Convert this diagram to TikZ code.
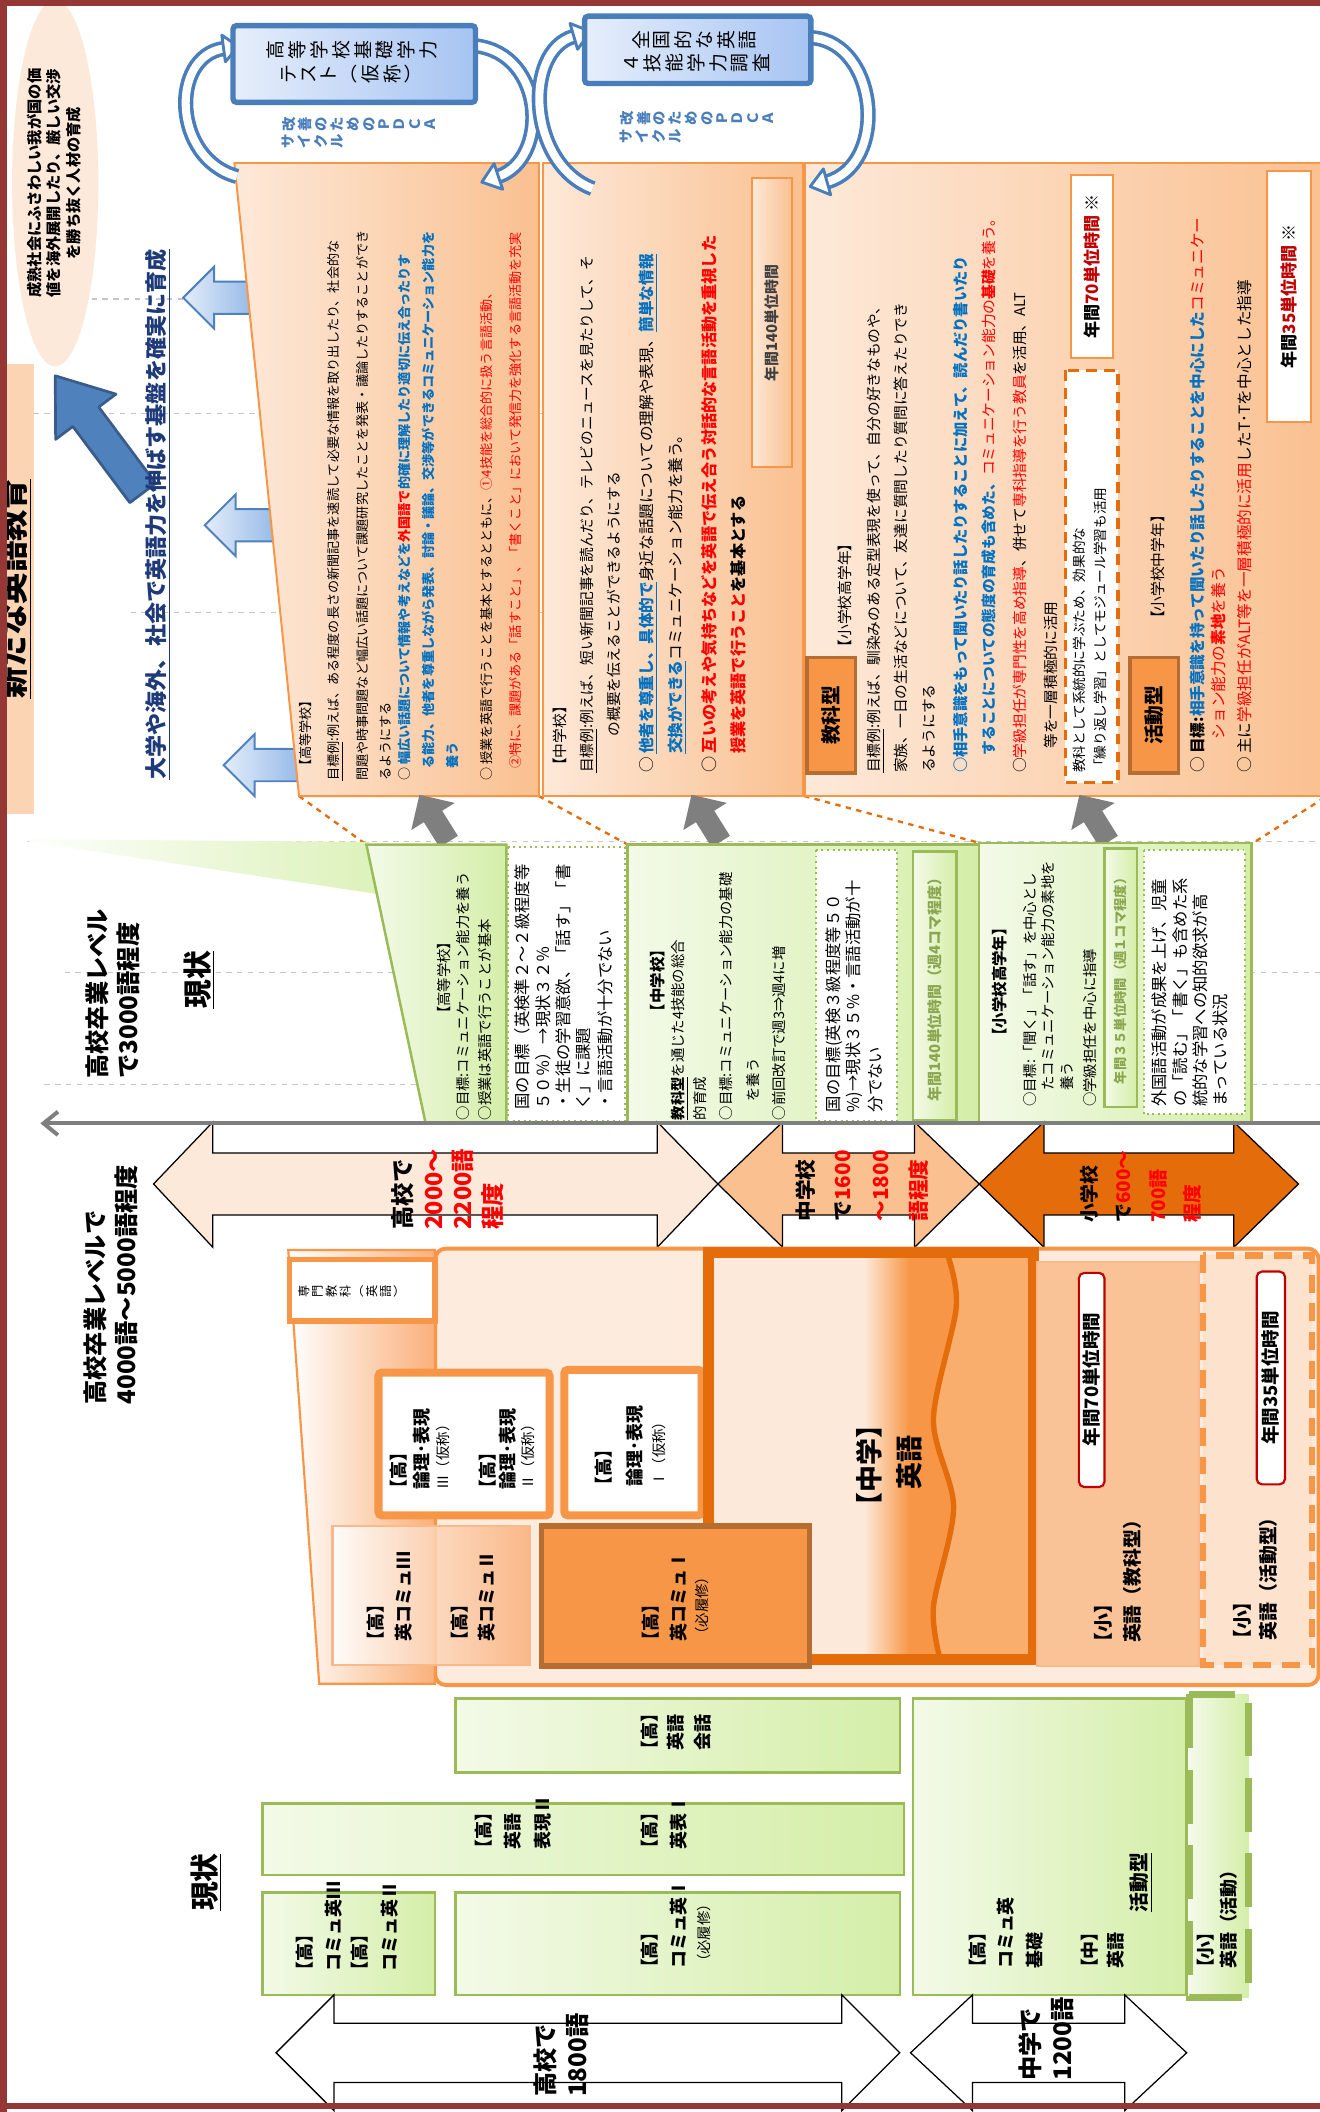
\documentclass[tikz,border=0pt]{standalone}
\usepackage{fontspec}
\setmainfont{Noto Sans CJK JP}
\usetikzlibrary{arrows.meta}
\definecolor{frameRed}{HTML}{953735}
\definecolor{peach}{HTML}{FDE9D9}
\definecolor{peachMid}{HTML}{FAC090}
\definecolor{orangeB}{HTML}{F79646}
\definecolor{orangeD}{HTML}{E46C0A}
\definecolor{orangeL}{HTML}{F9AE6E}
\definecolor{brownB}{HTML}{B66D31}
\definecolor{greenB}{HTML}{9BBB59}
\definecolor{greenL}{HTML}{F3FAE8}
\definecolor{greenR}{HTML}{D4EEA8}
\definecolor{greenT}{HTML}{8AA64E}
\definecolor{blueT}{HTML}{0070C0}
\definecolor{redT}{HTML}{FF0000}
\definecolor{redD}{HTML}{C00000}
\definecolor{navyT}{HTML}{1F3A78}
\definecolor{ringBlue}{HTML}{4A7EBB}
\definecolor{lbL}{HTML}{E3EDFA}
\definecolor{lbR}{HTML}{8FB5E6}
\definecolor{boxBL}{HTML}{E6EEFB}
\definecolor{boxBR}{HTML}{A6C4F2}
\definecolor{titlePeach}{HTML}{FBD4B4}
\definecolor{grayA}{HTML}{7F7F7F}
\definecolor{arrowBlue}{HTML}{4F81BD}
\definecolor{arrowBlueD}{HTML}{385D8A}
\definecolor{newPeach}{HTML}{FDEBDD}
\definecolor{funR}{HTML}{FAB07A}
\definecolor{kyokaFill}{HTML}{F9C297}
\definecolor{katsuFill}{HTML}{FDE3CD}
\definecolor{lightOr}{HTML}{F9B98A}
\pgfdeclarehorizontalshading{chushade}{100bp}{color(0bp)=(peach); color(25bp)=(peach); color(49bp)=(peach); color(56bp)=(orangeB); color(100bp)=(orangeB)}
\newcommand{\vt}[1]{\begin{tabular}{@{}c@{}}#1\end{tabular}}
\newcommand{\bk}[1]{\makebox[0.55em][r]{【}#1\makebox[0.55em][l]{】}}
\begin{document}
\begin{tikzpicture}[x=0.75pt,y=-0.75pt,
  tl/.style={rotate=90,inner sep=0pt,anchor=west},
  tc/.style={rotate=90,inner sep=0pt,anchor=center},
  callout/.style={draw=orangeB,line width=1.1pt,left color=peach,right color=peachMid},
  gbox/.style={draw=greenB,line width=1.4pt,left color=greenL,right color=greenR},
  dotbox/.style={draw=greenB,line width=1.1pt,dotted,fill=white},
  ring/.style={draw=ringBlue,line width=2pt,double=white,double distance=4.5pt},
  ringhead/.style={draw=ringBlue,line width=1.6pt,fill=white,line join=round},
  typebox/.style={draw=brownB,line width=2pt,fill=orangeB},
  wordarrow/.style={draw=black,line width=0.7pt},
  thickor/.style={draw=orangeB,line width=4.5pt,fill=white,rounded corners=2pt},
  grid/.style={draw=gray!45,dashed,line width=0.7pt},
  conn/.style={draw=orangeD,dashed,line width=1.3pt},
  redbox/.style={draw=redD,line width=1.2pt,fill=white,rounded corners=3pt},
  hours/.style={draw=orangeB,line width=1.1pt,fill=white},
  grayarrow/.style={fill=grayA},
  fB/.style={font=\fontsize{7.3}{8}\selectfont},
  fBb/.style={font=\fontsize{7.3}{8}\selectfont\bfseries},
  fC/.style={font=\fontsize{8.2}{9}\selectfont},
  fCbb/.style={font=\fontsize{8.5}{9}\selectfont\bfseries},
  fCb/.style={font=\fontsize{8.7}{9}\selectfont},
  fG/.style={font=\fontsize{8}{9}\selectfont},
  fGb/.style={font=\fontsize{8.6}{9}\selectfont\bfseries},
  fGd/.style={font=\fontsize{9.1}{10}\selectfont},
  fN/.style={font=\fontsize{10}{11}\selectfont\bfseries},
  fNs/.style={font=\fontsize{8}{9}\selectfont},
  fL/.style={font=\fontsize{13.5}{14}\selectfont\bfseries},
  fW/.style={font=\fontsize{11.5}{12}\selectfont\bfseries},
]
\useasboundingbox (0,0) rectangle (980,1568);
\fill[white] (0,0) rectangle (980,1568);

% ---------- background dashed guide lines ----------
\foreach \yy/\xs in {222/60,307/25,455/97,625/20,722/48,805/33}
  \draw[grid] (\xs,\yy) -- (980,\yy);

% ---------- ellipse and title ----------
\fill[peach] (41,136) ellipse (32 and 136);
\node[tc,align=center,font=\fontsize{8.5}{10.8}\selectfont\bfseries] (vision) at (40,136) {成熟社会にふさわしい我が国の価\\値を海外展開したり、厳しい交渉\\を勝ち抜く人材の育成};
\fill[titlePeach] (0,270) rectangle (25,604);
\node[tc,font=\fontsize{17.5}{18}\selectfont\bfseries] (title) at (11,437) {\underline{新たな英語教育}};

% ---------- light blue arrows ----------
\foreach \t/\c/\e in {136/221/192,152/390/210,166/568/228}
  \draw[draw=arrowBlue,line width=1.1pt,left color=lbL,right color=lbR]
   (\t,\c) -- (\t+23,\c-23) -- (\t+23,\c-12) -- (\e,\c-12) -- (\e,\c+12) -- (\t+23,\c+12) -- (\t+23,\c+23) -- cycle;

% ---------- big blue arrow ----------
\draw[draw=arrowBlueD,line width=1.5pt,fill=arrowBlue,line join=round]
 (115.6,358.8) -- (73.3,302.2) -- (86.1,292.6) -- (41,279) -- (41.3,326.2) -- (54.1,316.6) -- (96.4,373.2) -- cycle;
\node[tl,font=\fontsize{12.3}{13}\selectfont\bfseries,text=navyT] (goal) at (117,579) {\underline{大学や海外、社会で英語力を伸ばす基盤を確実に育成}};

% ---------- dashed callout connectors ----------
\coordinate (ca1) at (222,591); \coordinate (cb1) at (272,627);
\coordinate (ca2) at (400,591); \coordinate (cb2) at (466,627);
\coordinate (ca3) at (597,591); \coordinate (cb3) at (728,626);
\coordinate (ca4) at (990,588); \coordinate (cb4) at (930,626);
\draw[conn] (ca1) -- (cb1);
\draw[conn] (ca2) -- (cb2);
\draw[conn] (ca3) -- (cb3);
\draw[conn] (ca4) -- (cb4);

% ---------- callouts ----------
\draw[callout] (174,121) -- (400,121) -- (400,591) -- (222,591) -- cycle;
\draw[callout] (403,121) rectangle (596,591);
\draw[callout] (598,121) rectangle (990,591);

% ---------- PDCA rings ----------
\draw[ring] (176,131) .. controls (128,118) and (126,42) .. (166,36);
\draw[ringhead] (176.9,34.4) -- (167.3,45.9) -- (164.7,26.1) -- cycle;
\draw[ring] (353,34) .. controls (405,40) and (408,118) .. (370,131);
\draw[ringhead] (357.7,135.2) -- (373.2,140.5) -- (366.8,121.5) -- cycle;
\draw[ring] (440,140) .. controls (392,122) and (388,38) .. (426,27);
\draw[ringhead] (438.5,23.4) -- (428.8,36.6) -- (423.2,17.4) -- cycle;
\draw[ring] (603,28) .. controls (652,32) and (660,122) .. (614,135);
\draw[ringhead] (601.5,138.5) -- (616.7,144.6) -- (611.3,125.4) -- cycle;

\draw[draw=ringBlue,line width=3pt,left color=boxBL,right color=boxBR,rounded corners=2pt] (173,19) rectangle (353,76);
\node[tc,font=\fontsize{10.5}{11}\selectfont] (testA) at (263,37) {\vt{高\\等\\学\\校\\基\\礎\\学\\力}};
\node[tc,font=\fontsize{10.5}{11}\selectfont] (testB) at (263,55) {\vt{テ\\ス\\ト\\︵\\仮\\称\\︶}};
\draw[draw=ringBlue,line width=3pt,left color=boxBL,right color=boxBR,rounded corners=2pt] (434,12) rectangle (602,62);
\node[tc,font=\fontsize{10.5}{11}\selectfont] (surveyA) at (517,30) {\vt{全\\国\\的\\な\\英\\語}};
\node[tc,font=\fontsize{10.5}{11}\selectfont] (surveyB) at (519,47) {\vt{４\\技\\能\\学\\力\\調\\査}};
\node[rotate=90,inner sep=0pt,anchor=north,font=\fontsize{8}{8.4}\selectfont\bfseries,text=ringBlue] (pdcaA1) at (209,92) {\vt{改\\善\\の\\た\\め\\の\\Ｐ\\Ｄ\\Ｃ\\Ａ}};
\node[rotate=90,inner sep=0pt,anchor=north,font=\fontsize{8}{8.4}\selectfont\bfseries,text=ringBlue] (pdcaA2) at (209,105) {\vt{サ\\イ\\ク\\ル}};
\node[rotate=90,inner sep=0pt,anchor=north,font=\fontsize{8}{8.4}\selectfont\bfseries,text=ringBlue] (pdcaB1) at (460,88) {\vt{改\\善\\の\\た\\め\\の\\Ｐ\\Ｄ\\Ｃ\\Ａ}};
\node[rotate=90,inner sep=0pt,anchor=north,font=\fontsize{8}{8.4}\selectfont\bfseries,text=ringBlue] (pdcaB2) at (460,101) {\vt{サ\\イ\\ク\\ル}};

% ---------- high school callout text ----------
\node[tl,fB] (h1) at (227,574) {【高等学校】};
\node[tl,fB] (h2) at (249,580) {\underline{目標例}:例えば、ある程度の長さの新聞記事を速読して必要な情報を取り出したり、社会的な};
\node[tl,fB] (h3) at (269,580) {問題や時事問題など幅広い話題について課題研究したことを発表・議論したりすることができ};
\node[tl,fB] (h4) at (286,580) {るようにする};
\node[tl,fB] (h5) at (300,580) {○ {\bfseries\color{blueT}幅広い話題について情報や考えなどを}{\bfseries\color{redT}外国語で}{\bfseries\color{blueT}的確に理解したり適切に伝え合ったりす}};
\node[tl,fBb,text=blueT] (h6) at (318,571) {る能力、他者を尊重しながら発表、討論・議論、交渉等ができるコミュニケーション能力を};
\node[tl,fBb,text=blueT] (h7) at (336,571) {養う};
\node[tl,fB] (h8) at (361,580) {○ 授業を英語で行うことを基本とするとともに、{\color{redT}①4技能を総合的に扱う言語活動、}};
\node[tl,fB,text=redT] (h9) at (383,571) {②特に、課題がある「話すこと」、「書くこと」において発信力を強化する言語活動を充実};

% ---------- junior high callout text ----------
\node[tl,fC] (j1) at (416,574) {【中学校】};
\node[tl,fC] (j2) at (437,574) {\underline{目標例}:例えば、短い新聞記事を読んだり、テレビのニュースを見たりして、そ};
\node[tl,fC] (j3) at (456,547) {の概要を伝えることができるようにする};
\node[tl,fCb] (j4) at (481,574) {○ {\color{blueT}\bfseries\underline{他者を尊重し、}\underline{具体的で}}身近な話題についての理解や表現、{\color{blueT}\bfseries\underline{簡単な情報}}};
\node[tl,fCb] (j5) at (503,560) {{\color{blueT}\bfseries\underline{交換ができる}}コミュニケーション能力を養う。};
\node[tl,font=\fontsize{9}{10}\selectfont] (j6) at (527,574) {○ {\color{redT}\bfseries 互いの考えや気持ちなどを英語で伝え合う対話的な言語活動を重視した}};
\node[tl,font=\fontsize{9}{10}\selectfont\bfseries] (j7) at (548,560) {{\color{redT}授業を英語で行うこと}を基本とする};
\draw[callout] (558,132) rectangle (588,347);
\node[tc,font=\fontsize{8.3}{9}\selectfont\bfseries,text=black!75] (j140) at (573,240) {年間140単位時間};

% ---------- elementary callout text ----------
\draw[typebox] (599,488) rectangle (635,574);
\node[tc,font=\fontsize{11}{12}\selectfont\bfseries] (kyoka) at (617,531) {教科型};
\node[tl,fC] (e1) at (627,486) {【小学校高学年】};
\node[tl,fC] (e2) at (650,574) {\underline{目標例}:例えば、馴染みのある定型表現を使って、自分の好きなものや、};
\node[tl,fC] (e3) at (669,574) {家族、一日の生活などについて、友達に質問したり質問に答えたりでき};
\node[tl,fC] (e4) at (690,574) {るようにする};
\node[tl,fCbb,text=blueT] (e5) at (713,574) {○相手意識をもって聞いたり話したりすることに加えて、読んだり書いたり};
\node[tl,fC] (e6) at (734,561) {{\color{blueT}\bfseries することについての態度の育成も含めた、}{\color{redT}コミュニケーション能力の\textbf{基礎}を養う。}};
\node[tl,fC] (e7) at (757,574) {○{\color{redT}学級担任が専門性を高め指導}、併せて{\color{redT}専科指導を行う教員}を活用、ALT};
\node[tl,fC] (e8) at (780,556) {等を一層積極的に活用};
\draw[draw=orangeD,line width=2pt,dash pattern=on 6pt off 4pt,fill=white] (791,275) rectangle (830,581);
\node[tl,font=\fontsize{7.6}{8}\selectfont] (e9) at (801,574) {教科として系統的に学ぶため、効果的な};
\node[tl,font=\fontsize{7.6}{8}\selectfont] (e10) at (817,574) {「繰り返し学習」としてモジュール学習も活用};
\draw[hours] (795,130) rectangle (826,266);
\node[tc,font=\fontsize{9.5}{10}\selectfont\bfseries] (e70) at (810.5,198) {年間{\color{redD}70単位時間} ※};
\node[tl,fC] (e11) at (860,465) {【小学校中学年】};
\draw[typebox] (839,488) rectangle (875,574);
\node[tc,font=\fontsize{11}{12}\selectfont\bfseries] (katsu) at (857,531) {活動型};
\node[tl,fCb] (e12) at (889,574) {○ \textbf{目標:}{\color{blueT}\bfseries 相手意識を持って聞いたり話したりすることを中心にした}{\color{redT}コミュニケー}};
\node[tl,fCb,text=redT] (e13) at (905,549) {ション能力の\textbf{素地}を養う};
\node[tl,fCb] (e14) at (924,574) {○ 主に{\color{redT}学級担任がALT等を一層積極的に活用}したT･Tを中心とした指導};
\draw[hours] (941,127) rectangle (973,313);
\node[tc,font=\fontsize{9.5}{10}\selectfont\bfseries] (e35) at (957,220) {年間{\color{redD}35単位時間} ※};

% ---------- gray arrows (current -> new), tilted up-left ----------
\foreach \cx in {322,524,812}
  \fill[grayarrow,shift={(\cx,607)},rotate=32] (-8,21) -- (-8,-1) -- (-19,-1) -- (0,-20) -- (19,-1) -- (8,-1) -- (8,21) -- cycle;

% ---------- current row (green) ----------
\shade[left color=white,right color=greenR!80] (10,623) -- (274,625) -- (282,664) -- cycle;
\draw[gbox] (272,627) -- (376,627) -- (376,834) -- (316,834) -- cycle;
\draw[dotbox] (377,629) rectangle (464,832);
\draw[gbox] (466,627) rectangle (727,834);
\draw[dotbox] (606,631) rectangle (666,832);
\draw[gbox] (678,632) rectangle (710,832);
\draw[gbox] (727,626) rectangle (929,834);
\draw[gbox] (820,630) rectangle (844,822);
\draw[dotbox] (849,631) rectangle (924,827);

\node[tc,fG] (g1) at (330,726) {【高等学校】};
\node[tl,fG] (g2) at (344,832) {○目標:コミュニケーション能力を養う};
\node[tl,fG] (g3) at (360,832) {○授業は英語で行うことが基本};
\node[tl,fGd] (g4) at (388,824) {国の目標（英検準２～２級程度等};
\node[tl,fGd] (g5) at (403,824) {５０％）→現状３２％};
\node[tl,fGd] (g6) at (418,824) {・生徒の学習意欲、「話す」「書};
\node[tl,fGd] (g7) at (433,824) {く」に課題};
\node[tl,fGd] (g8) at (449,824) {・言語活動が十分でない};

\node[tc,fGb] (g9) at (488,728) {【中学校】};
\node[tl,fG] (g10) at (505,832) {\underline{\textbf{教科型}}を通じた4技能の総合};
\node[tl,fG] (g11) at (520,832) {的育成};
\node[tl,fG] (g12) at (539,832) {○目標:コミュニケーション能力の基礎};
\node[tl,fG] (g13) at (559,818) {を養う};
\node[tl,fG] (g14) at (578,832) {○前回改訂で週3⇒週4に増};
\node[tl,fGd] (g15) at (619,826) {国の目標(英検３級程度等５０};
\node[tl,fGd] (g16) at (634,826) {\%)→現状３５\%・言語活動が十};
\node[tl,fGd] (g17) at (650,826) {分でない};
\node[tc,font=\fontsize{8.3}{9}\selectfont\bfseries,text=greenT] (g18) at (694,732) {年間140単位時間（週4コマ程度）};

\node[tc,fGb] (g19) at (742,729) {【小学校高学年】};
\node[tl,fG] (g20) at (765,822) {○目標:「聞く」「話す」を中心とし};
\node[tl,fG] (g21) at (778,810) {たコミュニケーション能力の素地を};
\node[tl,fG] (g22) at (792,810) {養う};
\node[tl,fG] (g23) at (809,822) {○学級担任を中心に指導};
\node[tc,font=\fontsize{7.4}{8}\selectfont\bfseries,text=greenT] (g24) at (832,726) {年間３５単位時間（週１コマ程度）};
\node[tl,fGd] (g25) at (861,822) {外国語活動が成果を上げ、児童};
\node[tl,fGd] (g26) at (876,822) {の「読む」「書く」も含めた系};
\node[tl,fGd] (g27) at (891,822) {統的な学習への知的欲求が高};
\node[tl,fGd] (g28) at (906,822) {まっている状況};

% ---------- word count arrows (new) ----------
\draw[wordarrow,fill=peach] (114,879) -- (158,833) -- (158,856) -- (488,856) -- (488,833) -- (533,879) -- (488,926) -- (488,902) -- (158,902) -- (158,926) -- cycle;
\draw[wordarrow,fill=peachMid] (533,879) -- (581,833) -- (581,856) -- (679,856) -- (679,833) -- (727,879) -- (679,926) -- (679,902) -- (581,902) -- (581,926) -- cycle;
\draw[wordarrow,fill=orangeD] (727,879) -- (775,833) -- (775,856) -- (916,856) -- (916,833) -- (964,879) -- (916,926) -- (916,902) -- (775,902) -- (775,926) -- cycle;
\coordinate (axisR) at (980,834);
\coordinate (axisL) at (30,834);
\draw[grayA,line width=2.2pt,-{Straight Barb[length=8pt,width=13pt]}] (axisR) -- (axisL);

\node[tl,font=\fontsize{13}{14}\selectfont\bfseries] (w1) at (299,913) {高校で};
\node[tl,font=\fontsize{13}{14}\selectfont\bfseries,text=redT] (w2) at (322,913) {2000～};
\node[tl,font=\fontsize{13}{14}\selectfont\bfseries,text=redT] (w3) at (344,913) {2200語};
\node[tl,font=\fontsize{13}{14}\selectfont\bfseries,text=redT] (w4) at (366,913) {程度};
\node[tl,fW] (w5) at (598,907) {中学校};
\node[tl,fW] (w6) at (626,907) {で{\color{redT}1600}};
\node[tl,fW,text=redT] (w7) at (654,907) {～1800};
\node[tl,fW,text=redT] (w8) at (682,907) {語程度};
\node[tl,font=\fontsize{10.5}{11}\selectfont\bfseries] (w9) at (809,908) {小学校};
\node[tl,font=\fontsize{10.5}{11}\selectfont\bfseries] (w10) at (834,908) {で{\color{redT}600～}};
\node[tl,font=\fontsize{10.5}{11}\selectfont\bfseries,text=redT] (w11) at (860,908) {700語};
\node[tl,font=\fontsize{10.5}{11}\selectfont\bfseries,text=redT] (w12) at (885,908) {程度};

% ---------- new curriculum block ----------
\draw[draw=orangeB,line width=2.2pt,fill=newPeach,rounded corners=6pt] (323,927) rectangle (979,1251);
\draw[draw=orangeB,line width=1.2pt,left color=white,right color=funR] (214,928) -- (323,928) -- (323,1250) -- (237,1250) -- cycle;
\draw[thickor,line width=3.2pt,rounded corners=0pt] (215,935) rectangle (323,981);
\node[tc,font=\fontsize{6.8}{7}\selectfont] (senmon) at (262,959) {\vt{専\\門\\教\\科\\︵\\英\\語\\︶}};
\draw[thickor] (281,1019) rectangle (408,1125);
\node[tl,fN] (n1) at (296,1106) {\bk{高}};
\node[tl,fN] (n2) at (313,1106) {論理･表現};
\node[tl,fNs] (n3) at (329,1106) {Ⅲ（仮称）};
\node[tl,fN] (n4) at (362,1106) {\bk{高}};
\node[tl,fN] (n5) at (377,1106) {論理･表現};
\node[tl,fNs] (n6) at (392,1106) {Ⅱ（仮称）};
\draw[thickor] (419,1017) rectangle (521,1125);
\node[tl,fN] (n7) at (448,1104) {\bk{高}};
\node[tl,fN] (n8) at (471,1104) {論理･表現};
\node[tl,fNs] (n9) at (489,1104) {Ⅰ（仮称）};
\draw[draw=lightOr,line width=1.4pt,left color=white,right color=funR,fill opacity=0.85] (247,1133) rectangle (393,1236);
\node[tl,fN] (n10) at (279,1219) {\bk{高}};
\node[tl,fN] (n11) at (300,1219) {英コミュⅢ};
\node[tl,fN] (n12) at (341,1219) {\bk{高}};
\node[tl,fN] (n13) at (361,1219) {英コミュⅡ};
% junior high new
\shade[shading=chushade] (526,930) rectangle (767,1232);
\fill[orangeL] plot[smooth] coordinates {(703,930) (710,970) (693,1054) (708,1119) (693,1193) (698,1232)} -- (767,1232) -- (767,930) -- cycle;
\draw[orangeD,line width=3pt] plot[smooth] coordinates {(703,930) (710,970) (693,1054) (708,1119) (693,1193) (698,1232)};
\draw[orangeD,line width=6pt] (526,930) rectangle (767,1232);
\node[tc,font=\fontsize{15}{16}\selectfont\bfseries] (n14) at (645,1088) {【中学】};
\node[tc,font=\fontsize{15}{16}\selectfont\bfseries] (n15) at (675,1086) {英語};
\draw[draw=brownB,line width=3pt,fill=orangeB] (402,1133) rectangle (601,1237);
\node[tl,fN] (n16) at (483,1219) {\bk{高}};
\node[tl,fN] (n17) at (504,1219) {英コミュⅠ};
\node[tl,fNs] (n18) at (521,1219) {（必履修）};
% elementary new
\draw[draw=lightOr,line width=1.2pt,fill=kyokaFill] (770,937) rectangle (890,1237);
\draw[redbox] (801,945) rectangle (820,1104);
\node[tc,font=\fontsize{10.3}{11}\selectfont\bfseries] (n19) at (810.5,1024) {年間70単位時間};
\node[tl,font=\fontsize{10.5}{11}\selectfont\bfseries] (n20) at (819,1220) {\bk{小}};
\node[tl,font=\fontsize{10.5}{11}\selectfont\bfseries] (n21) at (841,1220) {英語（教科型）};
\draw[draw=orangeB,line width=3.5pt,dash pattern=on 10pt off 6pt,fill=katsuFill] (893,932) rectangle (974,1236);
\draw[redbox] (933,944) rectangle (954,1102);
\node[tc,font=\fontsize{10.3}{11}\selectfont\bfseries] (n22) at (943.5,1023) {年間35単位時間};
\node[tl,font=\fontsize{10.5}{11}\selectfont\bfseries] (n23) at (922,1218) {\bk{小}};
\node[tl,font=\fontsize{10.5}{11}\selectfont\bfseries] (n24) at (942,1218) {英語（活動型）};

% ---------- current curriculum block ----------
\draw[gbox] (338,1261) rectangle (668,1316);
\node[tl,fN] (c1) at (482,1300) {\bk{高}};
\node[tl,fN] (c2) at (502,1300) {英語};
\node[tl,fN] (c3) at (522,1300) {会話};
\draw[gbox] (195,1339) rectangle (671,1392);
\node[tl,fN] (c4) at (359,1373) {\bk{高}};
\node[tl,fN] (c5) at (381,1373) {英語};
\node[tl,fN] (c6) at (403,1373) {表現Ⅱ};
\node[tl,fN] (c7) at (482,1373) {\bk{高}};
\node[tl,fN] (c8) at (504,1373) {英表Ⅰ};
\draw[gbox] (195,1405) rectangle (323,1481);
\node[tl,fN] (c9) at (226,1464) {\bk{高}};
\node[tl,fN] (c10) at (248,1464) {コミュ英Ⅲ};
\node[tl,fN] (c11) at (267,1464) {\bk{高}};
\node[tl,fN] (c12) at (289,1464) {コミュ英Ⅱ};
\draw[gbox] (338,1405) rectangle (668,1481);
\node[tl,fN] (c13) at (482,1462) {\bk{高}};
\node[tl,fN] (c14) at (504,1462) {コミュ英Ⅰ};
\node[tl,fNs] (c15) at (523,1462) {（必履修）};
\draw[gbox] (678,1261) rectangle (881,1481);
\node[tl,fN] (c16) at (726,1462) {\bk{高}};
\node[tl,fN] (c17) at (747,1462) {コミュ英};
\node[tl,fN] (c18) at (768,1462) {基礎};
\node[tl,fN] (c19) at (809,1462) {\bk{中}};
\node[tl,fN] (c20) at (828,1462) {英語};
\node[tl,font=\fontsize{11}{12}\selectfont\bfseries] (c21) at (847,1420) {\underline{活動型}};
\draw[draw=greenB,line width=4pt,dash pattern=on 30pt off 12pt,left color=greenL,right color=greenR] (883,1258) rectangle (927,1483);
\node[tl,fN] (c22) at (895,1462) {\bk{小}};
\node[tl,fN] (c23) at (912,1462) {英語（活動）};

% ---------- word count arrows (current) ----------
\draw[wordarrow,fill=white] (205,1524) -- (248,1481) -- (248,1502) -- (625,1502) -- (625,1481) -- (668,1524) -- (625,1567) -- (625,1546) -- (248,1546) -- (248,1567) -- cycle;
\draw[wordarrow,fill=white] (676,1524) -- (722,1481) -- (722,1502) -- (835,1502) -- (835,1481) -- (881,1524) -- (835,1567) -- (835,1546) -- (722,1546) -- (722,1567) -- cycle;
\node[tl,fL] (b1) at (405,1557) {高校で};
\node[tl,fL] (b2) at (429,1557) {1800語};
\node[tl,fL] (b3) at (765,1545) {中学で};
\node[tl,fL] (b4) at (789,1545) {1200語};

% ---------- left side labels ----------
\node[tl,fL] (l1) at (72,801) {高校卒業レベル};
\node[tl,fL] (l2) at (95,801) {で3000語程度};
\node[tl,font=\fontsize{16}{17}\selectfont\bfseries] (l3) at (148,749) {\underline{現状}};
\node[tl,fL] (l4) at (71,1043) {高校卒業レベルで};
\node[tl,fL] (l5) at (94,1043) {4000語～5000語程度};
\node[tl,font=\fontsize{16}{17}\selectfont\bfseries] (l6) at (153,1419) {\underline{現状}};

% ---------- frame ----------
\fill[frameRed] (0,0) rectangle (5,1568);
\fill[frameRed] (0,0) rectangle (980,4.5);
\fill[frameRed] (0,1561) rectangle (980,1566);
\end{tikzpicture}
\end{document}
